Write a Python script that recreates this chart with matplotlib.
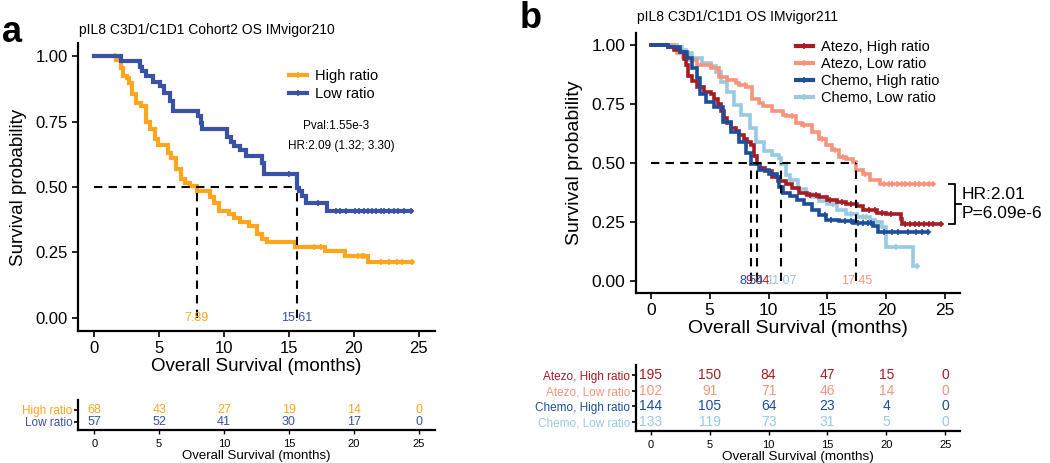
import numpy as np
import matplotlib.pyplot as plt
from matplotlib.lines import Line2D

plt.rcParams['font.family'] = ['Liberation Sans', 'DejaVu Sans']

# ---------- panel a: IMvigor210 ----------
a_title = "pIL8 C3D1/C1D1 Cohort2 OS IMvigor210"
a_groups = ["High ratio", "Low ratio"]
a_colors = ["#FFA51E", "#3A52A6"]

a_high_t = [0, 1.7, 2.05, 2.2, 2.5, 2.65, 2.9, 3.2, 3.6, 3.95, 4.3, 4.7, 4.9, 5.7, 5.9,
            6.3, 6.7, 7.0, 7.4, 7.89, 8.9, 9.2, 9.6, 10.4, 10.8, 11.2, 11.9, 12.5, 12.9,
            13.3, 15.5, 17.8, 19.3, 21.1]
a_high_s = [1.0, 0.985, 0.955, 0.925, 0.915, 0.897, 0.855, 0.82, 0.81, 0.75, 0.72, 0.685,
            0.66, 0.63, 0.61, 0.57, 0.53, 0.515, 0.505, 0.485, 0.46, 0.44, 0.41, 0.395,
            0.38, 0.365, 0.35, 0.32, 0.30, 0.29, 0.27, 0.255, 0.235, 0.215]
a_high_cens = [1.6, 2.0, 16.9, 17.5, 20.3, 20.6, 20.8, 22.1, 22.7, 23.3, 23.7, 24.5]

a_low_t = [0, 2.05, 3.5, 3.7, 3.95, 4.5, 5.1, 5.4, 5.8, 6.1, 8.0, 8.2, 8.3, 10.2, 10.5,
           10.8, 11.2, 11.7, 12.9, 13.1, 15.61, 15.8, 16.0, 16.3, 17.9]
a_low_s = [1.0, 0.982, 0.96, 0.943, 0.925, 0.90, 0.886, 0.86, 0.83, 0.79, 0.77, 0.745,
           0.72, 0.69, 0.67, 0.655, 0.64, 0.62, 0.59, 0.55, 0.495, 0.485, 0.465, 0.44, 0.41]
a_low_cens = [15.0, 17.2, 18.6, 18.9, 19.4, 20.1, 20.4, 20.8, 21.1, 21.4, 21.7, 22.1,
              22.3, 22.7, 23.1, 23.4, 23.9, 24.4]

a_medians = [7.89, 15.61]
a_risk = [[68, 43, 27, 19, 14, 0],
          [57, 52, 41, 30, 17, 0]]
a_pval = "Pval:1.55e-3"
a_hr = "HR:2.09 (1.32; 3.30)"

# ---------- panel b: IMvigor211 ----------
b_title = "pIL8 C3D1/C1D1 OS IMvigor211"
b_groups = ["Atezo, High ratio", "Atezo, Low ratio", "Chemo, High ratio", "Chemo, Low ratio"]
b_colors = ["#A51C24", "#F7957C", "#1C4E9C", "#98CAE4"]

b_ah_t = [0, 1.5, 2.0, 2.5, 2.8, 3.0, 3.2, 3.5, 3.9, 4.5, 5.1, 5.4, 5.7, 6.0, 6.2, 6.5,
          6.8, 7.2, 7.5, 7.9, 8.2, 8.5, 8.8, 9.04, 9.3, 9.7, 10.3, 10.8, 11.5, 12.0, 12.6,
          13.3, 14.3, 15.0, 15.8, 16.6, 17.5, 18.0, 19.2, 20.0, 21.2, 21.3]
b_ah_s = [1.0, 0.99, 0.98, 0.97, 0.94, 0.915, 0.87, 0.845, 0.82, 0.80, 0.79, 0.77, 0.75,
          0.72, 0.69, 0.67, 0.65, 0.635, 0.62, 0.60, 0.59, 0.575, 0.53, 0.497, 0.48, 0.465,
          0.44, 0.425, 0.41, 0.395, 0.375, 0.365, 0.355, 0.345, 0.333, 0.325, 0.316, 0.30,
          0.29, 0.285, 0.265, 0.24]
b_ah_cens = [13.5, 14.0, 15.2, 16.2, 17.0, 18.5, 19.0, 19.6, 20.4, 21.6, 22.0, 22.4, 22.8,
             23.2, 23.6, 24.0, 24.6]

b_al_t = [0, 2.0, 2.2, 2.7, 3.25, 3.9, 5.1, 5.8, 6.5, 7.2, 7.5, 8.1, 8.6, 9.2, 9.5, 10.3,
          11.2, 11.5, 12.3, 12.8, 13.7, 14.3, 14.9, 15.4, 16.0, 16.6, 17.2, 17.45, 18.0,
          18.6, 19.5]
b_al_s = [1.0, 0.985, 0.966, 0.95, 0.937, 0.915, 0.90, 0.865, 0.85, 0.84, 0.83, 0.82, 0.77,
          0.755, 0.74, 0.72, 0.705, 0.70, 0.67, 0.66, 0.63, 0.60, 0.575, 0.557, 0.527, 0.515,
          0.505, 0.47, 0.455, 0.43, 0.413]
b_al_cens = [8.0, 12.0, 13.0, 14.5, 15.6, 16.3, 18.2, 19.8, 20.2, 20.5, 20.9, 21.3, 21.6,
             22.0, 22.4, 22.8, 23.2, 23.6, 24.0]

b_ch_t = [0, 1.5, 2.5, 3.1, 3.5, 3.9, 4.2, 4.7, 5.4, 6.1, 6.8, 7.5, 8.1, 8.54, 9.2, 10.0,
          10.7, 10.9, 11.2, 11.8, 12.4, 13.0, 13.7, 14.3, 14.9, 16.0, 17.2, 18.9, 19.3]
b_ch_s = [1.0, 0.99, 0.97, 0.945, 0.90, 0.86, 0.79, 0.76, 0.735, 0.675, 0.633, 0.59, 0.544,
          0.497, 0.47, 0.455, 0.44, 0.40, 0.375, 0.36, 0.345, 0.325, 0.30, 0.28, 0.26, 0.253,
          0.245, 0.235, 0.21]
b_ch_cens = [14.8, 15.3, 16.5, 17.0, 17.6, 18.0, 18.4, 18.7, 19.8, 20.5, 21.0, 21.8, 22.5,
             23.0, 23.5]

b_cl_t = [0, 2.2, 2.65, 3.0, 3.5, 4.35, 5.1, 5.5, 6.0, 6.5, 7.1, 7.7, 8.4, 8.95, 9.6, 10.3,
          10.9, 11.07, 11.5, 11.8, 12.5, 13.2, 13.7, 14.3, 15.0, 15.8, 16.6, 17.5, 18.6, 19.0,
          19.6, 20.0, 22.3]
b_cl_s = [1.0, 0.99, 0.98, 0.965, 0.945, 0.925, 0.91, 0.886, 0.844, 0.80, 0.747, 0.705,
          0.65, 0.59, 0.55, 0.535, 0.52, 0.495, 0.45, 0.43, 0.39, 0.37, 0.355, 0.34, 0.325,
          0.30, 0.285, 0.27, 0.26, 0.25, 0.23, 0.143, 0.065]
b_cl_cens = [15.5, 17.0, 18.0, 18.3, 20.8, 22.6]

b_medians = [9.04, 17.45, 8.54, 11.07]
b_risk = [[195, 150, 84, 47, 15, 0],
          [102, 91, 71, 46, 14, 0],
          [144, 105, 64, 23, 4, 0],
          [133, 119, 73, 31, 5, 0]]
b_hr = "HR:2.01"
b_p = "P=6.09e-6"

risk_times = [0, 5, 10, 15, 20, 25]


def surv_at(t, s, x):
    idx = np.searchsorted(t, x, side="right") - 1
    return np.asarray(s)[idx]


def km(ax, t, s, cens, color, lw):
    t = np.asarray(t)
    end = max(max(cens), t[-1])
    tt = np.append(t, end)
    ss = np.append(s, s[-1])
    ax.step(tt, ss, where="post", color=color, lw=lw, solid_joinstyle="miter")
    ax.plot(cens, surv_at(t, s, cens), ls="none", marker="+", ms=5, mew=1.2, color=color)


def style_main(ax, tick_fs):
    for sp in ["top", "right"]:
        ax.spines[sp].set_visible(False)
    for sp in ["left", "bottom"]:
        ax.spines[sp].set_linewidth(1.6)
    ax.set_xlim(-1.25, 26.25)
    ax.set_ylim(-0.05, 1.05)
    ax.set_xticks(risk_times)
    ax.set_yticks([0, 0.25, 0.5, 0.75, 1.0])
    ax.set_yticklabels(["0.00", "0.25", "0.50", "0.75", "1.00"])
    ax.tick_params(labelsize=tick_fs, width=1.2, length=4, colors="black")


def style_risk(ax, labels, colors, table, num_fs, lab_fs):
    n = len(labels)
    for sp in ["top", "right"]:
        ax.spines[sp].set_visible(False)
    for sp in ["left", "bottom"]:
        ax.spines[sp].set_linewidth(1.6)
    ax.set_xlim(-1.25, 26.25)
    ax.set_xticks(risk_times)
    ys = list(range(n - 1, -1, -1))
    ax.set_yticks(ys)
    ax.set_yticklabels(labels, fontsize=8.5)
    for lab, c in zip(ax.get_yticklabels(), colors):
        lab.set_color(c)
    ax.tick_params(axis="x", labelsize=8, width=1.0, length=3)
    ax.tick_params(axis="y", width=1.2, length=3, pad=1)
    for row, y, c in zip(table, ys, colors):
        for x, v in zip(risk_times, row):
            ax.text(x, y, str(v), color=c, fontsize=num_fs, ha="center", va="center")
    ax.set_xlabel("Overall Survival (months)", fontsize=lab_fs, labelpad=1)


fig = plt.figure(figsize=(10.5, 4.63), dpi=100)
W, H = 1050, 463


def box(l, r, t, b):
    return [l / W, 1 - b / H, (r - l) / W, (b - t) / H]


# ---- panel a
ax_a = fig.add_axes(box(78, 435, 43, 331))
km(ax_a, a_high_t, a_high_s, a_high_cens, a_colors[0], 3.0)
km(ax_a, a_low_t, a_low_s, a_low_cens, a_colors[1], 3.0)
ax_a.plot([0, max(a_medians)], [0.5, 0.5], ls=(0, (4, 3)), color="black", lw=1.5)
for m, c in zip(a_medians, a_colors):
    ax_a.plot([m, m], [0, 0.5], ls=(0, (4, 3)), color="black", lw=1.5)
    ax_a.text(m, 0.0, f"{m:.2f}", color=c, fontsize=9, ha="center", va="center")
style_main(ax_a, 12)
ax_a.set_xlabel("Overall Survival (months)", fontsize=13.5, labelpad=1)
ax_a.set_ylabel("Survival probability", fontsize=13.5, labelpad=6)
ax_a.text(18.6, 0.734, a_pval, fontsize=8.5, ha="center", va="center")
ax_a.text(19.0, 0.658, a_hr, fontsize=8.5, ha="center", va="center")
handles = [Line2D([], [], color=c, lw=3, marker="+", ms=5, mew=1.2) for c in a_colors]
ax_a.legend(handles, a_groups, loc="upper left", bbox_to_anchor=(0.575, 0.93),
            frameon=False, fontsize=10.5, handlelength=1.2, handletextpad=0.6,
            labelspacing=0.25, borderaxespad=0)
fig.text(2 / W, 1 - 32 / H, "a", fontsize=26, fontweight="bold", va="center")
fig.text(79 / W, 1 - 30 / H, a_title, fontsize=10, va="center")

ax_ar = fig.add_axes(box(78, 435, 400, 430))
style_risk(ax_ar, a_groups, a_colors, a_risk, 9, 9.5)
ax_ar.set_ylim(-0.667, 1.833)

# ---- panel b
ax_b = fig.add_axes(box(636, 960, 33, 293))
km(ax_b, b_cl_t, b_cl_s, b_cl_cens, b_colors[3], 2.6)
km(ax_b, b_al_t, b_al_s, b_al_cens, b_colors[1], 2.6)
km(ax_b, b_ah_t, b_ah_s, b_ah_cens, b_colors[0], 2.6)
km(ax_b, b_ch_t, b_ch_s, b_ch_cens, b_colors[2], 2.6)
ax_b.plot([0, max(b_medians)], [0.5, 0.5], ls=(0, (4, 3)), color="black", lw=1.5)
for m, c in zip(b_medians, b_colors):
    ax_b.plot([m, m], [0, 0.5], ls=(0, (4, 3)), color="black", lw=1.5)
for m, c in zip(b_medians, b_colors):
    ax_b.text(m, 0.0, f"{m:.2f}", color=c, fontsize=9, ha="center", va="center")
style_main(ax_b, 12.5)
ax_b.set_xlabel("Overall Survival (months)", fontsize=14, labelpad=1)
ax_b.set_ylabel("Survival probability", fontsize=14, labelpad=6)
handles = [Line2D([], [], color=c, lw=3, marker="+", ms=5, mew=1.2) for c in b_colors]
ax_b.legend(handles, b_groups, loc="upper left", bbox_to_anchor=(0.475, 0.995),
            frameon=False, fontsize=10.5, handlelength=1.2, handletextpad=0.5,
            labelspacing=0.2, borderaxespad=0)
# HR bracket between the atezo curves
y_top, y_bot = b_al_s[-1], b_ah_s[-1]
ax_b.plot([25.3, 25.85, 25.85, 25.3], [y_top, y_top, y_bot, y_bot], color="black",
          lw=1.3, clip_on=False)
ax_b.plot([25.85, 26.3], [(y_top + y_bot) / 2] * 2, color="black", lw=1.3, clip_on=False)
ax_b.text(26.4, y_top - 0.045, b_hr, fontsize=12.5, va="center", clip_on=False)
ax_b.text(26.4, y_bot + 0.045, b_p, fontsize=12.5, va="center", clip_on=False)
fig.text(520 / W, 1 - 18 / H, "b", fontsize=26, fontweight="bold", va="center")
fig.text(637 / W, 1 - 17 / H, b_title, fontsize=10, va="center")

ax_br = fig.add_axes(box(636, 960, 365, 431))
style_risk(ax_br, b_groups, b_colors, b_risk, 10, 9.7)
ax_br.set_ylim(-0.58, 3.65)

fig.savefig("out.png", dpi=100)
